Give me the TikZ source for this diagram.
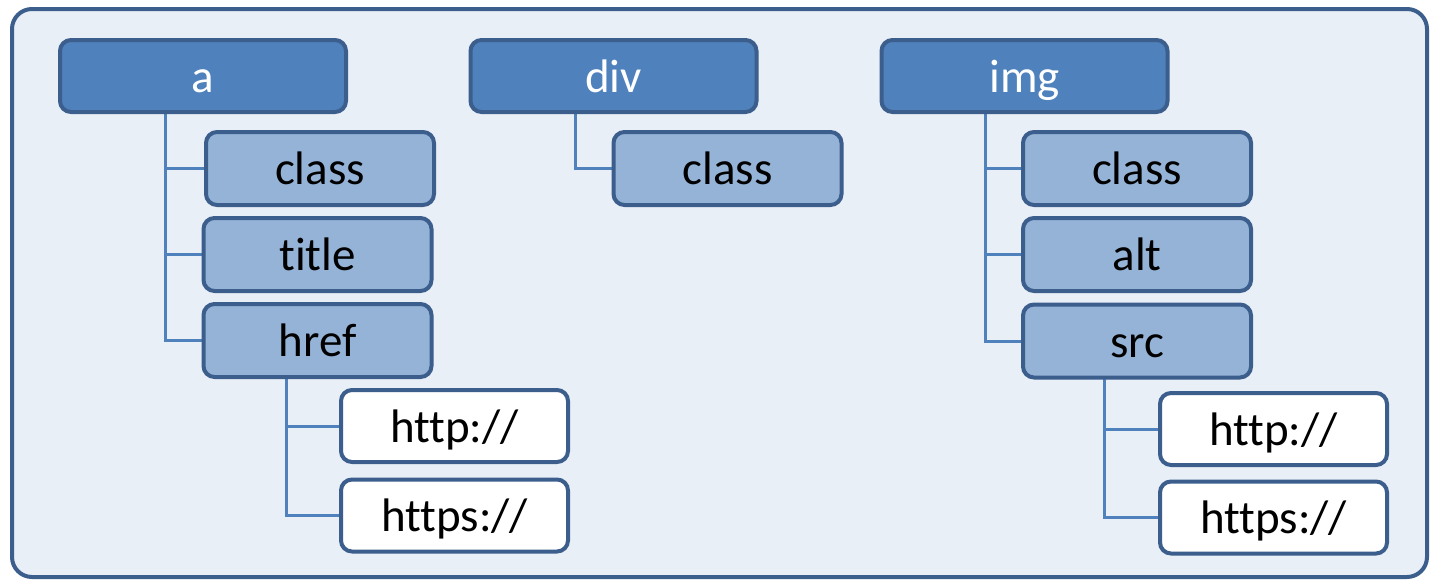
\documentclass[tikz,border=0pt]{standalone}
\usepackage{fontspec}
\setmainfont[Ligatures=NoCommon]{Carlito}
\usetikzlibrary{backgrounds}
\definecolor{bdr}{HTML}{3B5E8C}
\definecolor{midblue}{HTML}{4F81BD}
\definecolor{lightblue}{HTML}{95B3D7}
\definecolor{bgblue}{HTML}{E9EFF7}
\tikzset{
  base/.style={draw=bdr, line width=4pt, rounded corners=11pt, inner sep=0pt, outer sep=0pt,
    font=\fontsize{47}{52}\selectfont, text height=36pt, text depth=4pt},
  topbox/.style={base, fill=midblue, text=white, minimum width=286pt, minimum height=72pt},
  attrbox/.style={base, fill=lightblue, text=black, minimum width=228pt, minimum height=73pt},
  valbox/.style={base, fill=white, text=black, minimum width=227pt, minimum height=72pt},
  link/.style={draw=midblue, line width=3pt}
}
\begin{document}
\begin{tikzpicture}[x=1pt,y=-1pt]
\useasboundingbox (0,0) rectangle (1431,581);

% left tree
\node[topbox] (a) at (203,76) {a};
\node[attrbox] (aclass) at (320,168.5) {class};
\node[attrbox] (atitle) at (317.5,254.5) {title};
\node[attrbox] (ahref) at (317.5,340.5) {href};
\node[valbox] (ahttp) at (454.5,426) {http://};
\node[valbox] (ahttps) at (454.5,515.5) {https://};

% middle tree
\node[topbox] (div) at (613.5,76) {div};
\node[attrbox] (dclass) at (727.5,168.5) {class};

% right tree
\node[topbox] (img) at (1024.5,76) {img};
\node[attrbox] (iclass) at (1137,168.5) {class};
\node[attrbox] (ialt) at (1137,254.5) {alt};
\node[attrbox] (isrc) at (1137,341) {src};
\node[valbox] (ihttp) at (1273.5,429) {http://};
\node[valbox] (ihttps) at (1273.5,517.5) {https://};

% trunks
\coordinate (ta) at ([xshift=105pt]a.south west);
\coordinate (td) at ([xshift=104.5pt]div.south west);
\coordinate (ti) at ([xshift=103.5pt]img.south west);
\coordinate (th) at ([xshift=-31.5pt]ahref.south);
\coordinate (ts) at ([xshift=-33pt]isrc.south);

\begin{scope}[on background layer]
\draw[bdr, fill=bgblue, line width=4pt, rounded corners=20pt] (12,9) rectangle (1427,577);
\draw[link] (ta) |- (ahref.west);
\draw[link] (ta |- aclass.west) -- (aclass.west);
\draw[link] (ta |- atitle.west) -- (atitle.west);
\draw[link] (td) |- (dclass.west);
\draw[link] (ti) |- (isrc.west);
\draw[link] (ti |- iclass.west) -- (iclass.west);
\draw[link] (ti |- ialt.west) -- (ialt.west);
\draw[link] (th) |- (ahttps.west);
\draw[link] (th |- ahttp.west) -- (ahttp.west);
\draw[link] (ts) |- (ihttps.west);
\draw[link] (ts |- ihttp.west) -- (ihttp.west);
\end{scope}
\end{tikzpicture}
\end{document}
